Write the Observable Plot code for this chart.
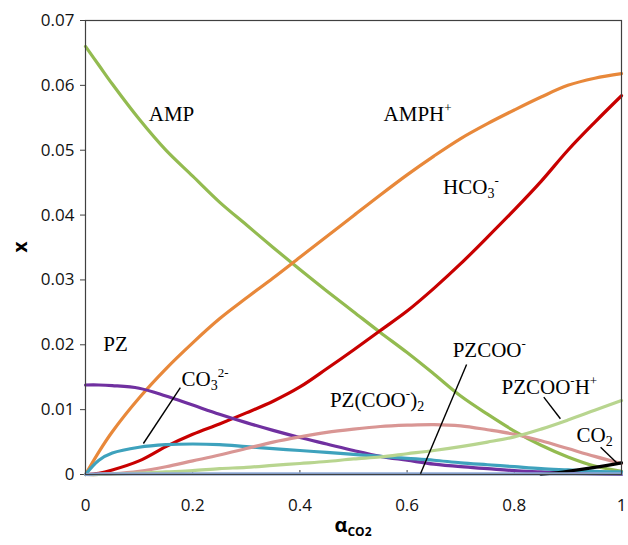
<!DOCTYPE html>
<html>
<head>
<meta charset="utf-8">
<script src="https://cdn.jsdelivr.net/npm/d3@7"></script>
<script src="https://cdn.jsdelivr.net/npm/@observablehq/plot@0.6"></script>
<style>
  html, body { margin: 0; padding: 0; background: #fff; }
  #chart { width: 628px; height: 545px; }
</style>
</head>
<body>
<div id="chart"></div>
<script>
// ---- data ----
const alpha = [0, 0.025, 0.05, 0.1, 0.15, 0.2, 0.25, 0.3, 0.35, 0.4, 0.45, 0.5, 0.55, 0.6, 0.65, 0.7, 0.75, 0.8, 0.85, 0.9, 0.95, 1];

const AMP       = [0.0660, 0.0631, 0.0602, 0.0548, 0.0500, 0.0460, 0.0420, 0.0385, 0.0350, 0.0316, 0.0283, 0.0251, 0.0219, 0.0188, 0.0155, 0.0121, 0.0093, 0.0067, 0.0045, 0.0027, 0.0013, 0.0005];
const AMPH      = [0, 0.0035, 0.0066, 0.0118, 0.0163, 0.0203, 0.0240, 0.0272, 0.0303, 0.0335, 0.0367, 0.0399, 0.0431, 0.0462, 0.0491, 0.0518, 0.0541, 0.0562, 0.0582, 0.0600, 0.0611, 0.0618];
const HCO3      = [0, 0.0002, 0.0007, 0.0021, 0.0043, 0.0062, 0.0078, 0.0095, 0.0113, 0.0135, 0.0163, 0.0192, 0.0222, 0.0252, 0.0287, 0.0325, 0.0366, 0.0408, 0.0452, 0.0500, 0.0543, 0.0584];
const PZ        = [0.0138, 0.0138, 0.0137, 0.0133, 0.0121, 0.0107, 0.0093, 0.0080, 0.0068, 0.0057, 0.0047, 0.0037, 0.0028, 0.0022, 0.0016, 0.0012, 0.0009, 0.0006, 0.0004, 0.0002, 0.0001, 0];
const CO3       = [0, 0.0022, 0.0033, 0.0042, 0.0046, 0.0047, 0.0046, 0.0043, 0.0040, 0.0037, 0.0034, 0.0031, 0.0028, 0.0025, 0.0022, 0.0018, 0.0015, 0.0012, 0.0009, 0.0007, 0.0005, 0.0004];
const PZCOO2    = [0, 0, 0.0001, 0.0005, 0.0012, 0.0021, 0.0030, 0.0040, 0.0050, 0.0058, 0.0065, 0.0070, 0.0074, 0.0076, 0.0077, 0.0075, 0.0069, 0.0062, 0.0052, 0.0040, 0.0028, 0.0017];
const PZCOOH    = [0, 0, 0.0001, 0.0002, 0.0004, 0.0006, 0.0009, 0.0011, 0.0014, 0.0017, 0.0020, 0.0024, 0.0027, 0.0032, 0.0037, 0.0043, 0.0050, 0.0058, 0.0070, 0.0084, 0.0099, 0.0114];
const CO2       = [null, null, null, null, null, null, null, null, null, null, null, null, null, null, null, null, null, null, 0.0000, 0.0005, 0.0011, 0.0018];
const PZCOO     = [0, 0.0001, 0.0001, 0.0001, 0.0001, 0.0001, 0.0001, 0.0001, 0.0001, 0.0001, 0.0001, 0.0001, 0.0001, 0.0001, 0.0001, 0.0001, 0.0001, 0.0001, 0.0001, 0.0001, 0.0001, 0.0001];

const seriesNames  = ["AMP", "AMPH+", "HCO3-", "PZ", "CO3 2-", "PZ(COO-)2", "PZCOO-H+", "CO2", "PZCOO-"];
const seriesValues = [AMP, AMPH, HCO3, PZ, CO3, PZCOO2, PZCOOH, CO2, PZCOO];
const seriesColors = ["#93bb50", "#e8883a", "#c80000", "#7030a0", "#3ea2bd", "#d99694", "#b8d58f", "#000000", "#8eaad8"];

const xTicks = [0, 0.2, 0.4, 0.6, 0.8, 1];
const yTicks = [0, 0.01, 0.02, 0.03, 0.04, 0.05, 0.06, 0.07];
const xTickLabels = ["0", "0.2", "0.4", "0.6", "0.8", "1"];
const yTickLabels = ["0", "0.01", "0.02", "0.03", "0.04", "0.05", "0.06", "0.07"];

// species labels: position (alpha, x) and text parts
const labelAlpha = [0.119, 0.557, 0.668, 0.034, 0.180, 0.457, 0.686, 0.777, 0.917];
const labelX     = [0.0544, 0.0544, 0.0432, 0.0190, 0.01357, 0.01033, 0.0180, 0.01233, 0.00493];
const labelParts = [
  [["AMP", ""]],
  [["AMPH", ""], ["+", "sup"]],
  [["HCO", ""], ["3", "sub"], ["-", "sup"]],
  [["PZ", ""]],
  [["CO", ""], ["3", "sub"], ["2-", "sup"]],
  [["PZ(COO", ""], ["-", "sup"], [")", ""], ["2", "sub"]],
  [["PZCOO", ""], ["-", "sup"]],
  [["PZCOO", ""], ["-", "sup"], ["H", ""], ["+", "sup"]],
  [["CO", ""], ["2", "sub"]]
];

// leader lines (data coordinates)
const leaderA1 = [0.108, 0.711, 0.855, 0.961];
const leaderX1 = [0.00478, 0.01696, 0.01192, 0.00421];
const leaderA2 = [0.177, 0.625, 0.886, 0.992];
const leaderX2 = [0.01341, 0.0001, 0.00859, 0.00174];

// ---- build tables ----
const rows = seriesNames.flatMap((name, i) =>
  alpha.map((a, j) => ({series: name, a, v: seriesValues[i][j]})));
const leaders = leaderA1.map((a, i) => ({a1: a, x1: leaderX1[i], a2: leaderA2[i], x2: leaderX2[i]}));

const lineMarks = seriesNames.map((name, i) =>
  Plot.line(rows.filter(d => d.series === name && d.v != null), {
    x: "a", y: "v",
    stroke: seriesColors[i], strokeWidth: 3.2,
    curve: "catmull-rom"
  }));

const plot = Plot.plot({
  width: 628,
  height: 545,
  marginLeft: 85,
  marginRight: 7,
  marginTop: 20,
  marginBottom: 71,
  style: {fontFamily: "'Open Sans', 'DejaVu Sans', sans-serif", fontSize: "17px", color: "#000", background: "#fff"},
  x: {type: "linear", domain: [0, 1]},
  y: {type: "linear", domain: [0, 0.07]},
  marks: [
    Plot.axisY({ticks: yTicks, tickSize: 5, tickPadding: 6, label: null,
      tickFormat: d => yTickLabels[yTicks.indexOf(d)], stroke: "#404040", fill: "#111"}),
    Plot.axisX({ticks: xTicks, tickSize: 0, tickPadding: 24, label: null,
      tickFormat: d => xTickLabels[xTicks.indexOf(d)], fill: "#111"}),
    Plot.axisX({ticks: xTicks.slice(1, -1), tickSize: -4, tickPadding: 0, label: null,
      tickFormat: () => "", stroke: "#404040"}),
    ...lineMarks,
    Plot.link(leaders, {x1: "a1", y1: "x1", x2: "a2", y2: "x2", stroke: "#000", strokeWidth: 1.4}),
    Plot.frame({stroke: "#404040", strokeWidth: 1.2})
  ]
});

document.getElementById("chart").appendChild(plot);

const svg = d3.select(plot);
const xs = plot.scale("x"), ys = plot.scale("y");

// species labels as real text with super/subscripts
const g = svg.append("g")
  .attr("font-family", "'Liberation Serif', 'Times New Roman', serif")
  .attr("text-anchor", "start")
  .attr("fill", "#000");
labelParts.forEach((parts, i) => {
  const t = g.append("text").attr("x", xs.apply(labelAlpha[i])).attr("y", ys.apply(labelX[i]));
  let shift = 0;
  parts.forEach(([txt, kind]) => {
    const s = t.append("tspan").text(txt);
    let target = 0, size = 21;
    if (kind === "sup") { target = -9; size = 13; }
    if (kind === "sub") { target = 4; size = 14; }
    s.attr("font-size", size).attr("dy", target - shift);
    shift = target;
  });
});

// axis titles
svg.append("text")
  .attr("transform", `translate(20, ${(20 + 474) / 2}) rotate(-90)`)
  .attr("text-anchor", "middle")
  .attr("font-family", "'Open Sans', sans-serif")
  .attr("font-weight", "bold").attr("font-size", 19)
  .attr("dy", "0.35em")
  .text("x");
const xt = svg.append("text")
  .attr("x", xs.apply(0.5)).attr("y", 532)
  .attr("text-anchor", "middle")
  .attr("font-family", "'Open Sans', sans-serif")
  .attr("font-weight", "bold");
xt.append("tspan").attr("font-size", 20).text("α");
xt.append("tspan").attr("font-size", 12).attr("dy", 4).text("CO2");
</script>
</body>
</html>
